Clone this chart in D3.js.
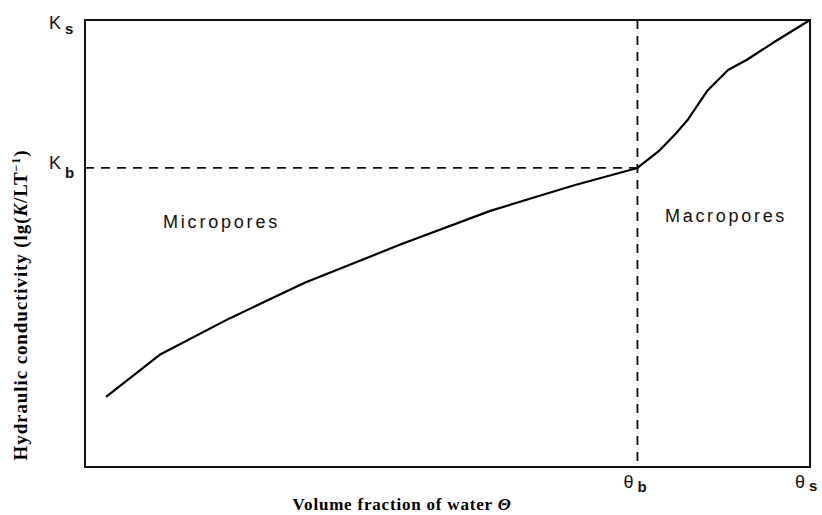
<!DOCTYPE html>
<html>
<head>
<meta charset="utf-8">
<script src="https://cdn.jsdelivr.net/npm/d3@7"></script>
<style>
  body { margin: 0; background: #fff; }
  svg { display: block; }
</style>
</head>
<body>
<svg width="822" height="515"></svg>
<script>
var svg = d3.select("svg");

// curve, in % of the axis range
var theta = [2.9, 10.3, 20.0, 30.3, 43.4, 55.9, 67.6, 76.2, 79.3, 81.5, 83.2, 85.8, 88.7, 91.3, 94.9, 100];
var logK  = [15.7, 25.1, 33.3, 41.2, 49.7, 57.3, 63.1, 66.9, 70.9, 74.6, 77.8, 84.1, 88.8, 91.1, 94.9, 100];

var thetaB = 76.2, kB = 66.9;
var thetaS = 100, kS = 100;

var x = d3.scaleLinear().domain([0, 100]).range([85, 810]);
var y = d3.scaleLinear().domain([0, 100]).range([467, 20]);

// dashed guide lines
svg.append("line")
    .attr("x1", x(0)).attr("x2", x(thetaB))
    .attr("y1", y(kB)).attr("y2", y(kB))
    .attr("stroke", "#111").attr("stroke-width", 1.8)
    .attr("stroke-dasharray", "9,7");

svg.append("line")
    .attr("x1", x(thetaB)).attr("x2", x(thetaB))
    .attr("y1", y(kS)).attr("y2", y(0))
    .attr("stroke", "#111").attr("stroke-width", 1.8)
    .attr("stroke-dasharray", "9,7");

// frame
svg.append("rect")
    .attr("x", x(0)).attr("y", y(100))
    .attr("width", x(100) - x(0)).attr("height", y(0) - y(100))
    .attr("fill", "none").attr("stroke", "#111").attr("stroke-width", 2);

var line = d3.line()
    .x(function(d, i) { return x(theta[i]); })
    .y(function(d, i) { return y(logK[i]); });

svg.append("path")
    .datum(theta)
    .attr("d", line)
    .attr("fill", "none")
    .attr("stroke", "#000")
    .attr("stroke-width", 2.2)
    .attr("stroke-linejoin", "round");

// symbol labels with subscripts
function sub(px, py, main, s, dy) {
  var t = svg.append("text")
      .attr("x", px).attr("y", py)
      .style("font-family", "Liberation Sans, Arial, sans-serif")
      .style("font-size", "18px")
      .attr("fill", "#111");
  t.append("tspan").text(main);
  t.append("tspan").attr("dx", 4).attr("dy", dy)
      .style("font-size", "15px").style("font-weight", "bold").text(s);
}
sub(49, y(kS) + 9, "K", "s", 5);
sub(49, y(kB) + 1, "K", "b", 9);
sub(x(thetaB) - 14, 488, "θ", "b", 4);
sub(x(thetaS) - 15, 488, "θ", "s", 3);

// region names
svg.append("text")
    .attr("x", 163).attr("y", 228)
    .style("font-family", "Liberation Sans, Arial, sans-serif")
    .style("font-size", "18px")
    .style("letter-spacing", "2.8px")
    .attr("fill", "#111")
    .text("Micropores");

svg.append("text")
    .attr("x", 665).attr("y", 222)
    .style("font-family", "Liberation Sans, Arial, sans-serif")
    .style("font-size", "18px")
    .style("letter-spacing", "2.7px")
    .attr("fill", "#111")
    .text("Macropores");

// axis titles
var xt = svg.append("text")
    .attr("x", 402).attr("y", 510)
    .attr("text-anchor", "middle")
    .style("font-family", "Liberation Serif, Times New Roman, serif")
    .style("font-size", "17px")
    .style("font-weight", "bold")
    .style("letter-spacing", "0.8px")
    .text("Volume fraction of water ");
xt.append("tspan").style("font-style", "italic").text("Θ");

var yt = svg.append("text")
    .attr("transform", "translate(27,305) rotate(-90)")
    .attr("text-anchor", "middle")
    .style("font-family", "Liberation Serif, Times New Roman, serif")
    .style("font-size", "19px")
    .style("font-weight", "bold")
    .style("letter-spacing", "0.9px")
    .text("Hydraulic conductivity (lg(");
yt.append("tspan").style("font-style", "italic").text("K");
yt.append("tspan").text("/LT");
yt.append("tspan").attr("dy", -7).style("font-size", "12px").text("−1");
yt.append("tspan").attr("dy", 7).text(")");
</script>
</body>
</html>
